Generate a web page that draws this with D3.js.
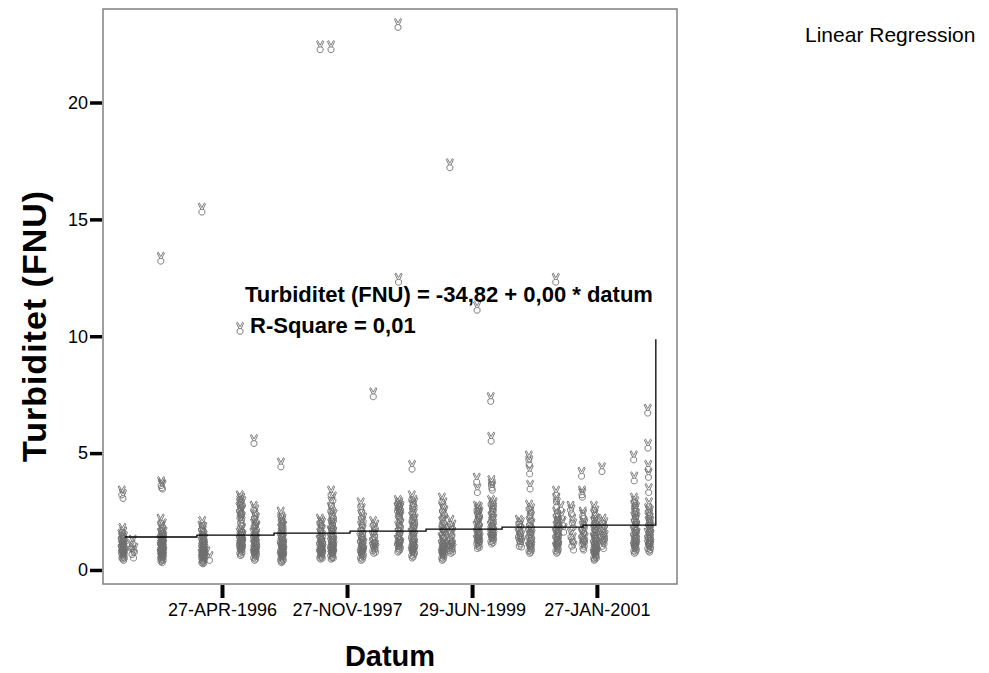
<!DOCTYPE html>
<html>
<head>
<meta charset="utf-8">
<script src="https://cdn.jsdelivr.net/npm/d3@7"></script>
<style>
  body { margin: 0; background: #fff; }
  svg { display: block; font-family: "Liberation Sans", Arial, sans-serif; }
</style>
</head>
<body>
<svg width="989" height="673"></svg>
<script>
// sampling campaigns: centre date of each campaign and the turbidity values measured in it
var sampleDates = ["1995-01-24", "1995-03-11", "1995-07-24", "1996-01-30", "1996-02-22", "1996-07-24",
  "1996-09-27", "1997-01-30", "1997-07-30", "1997-09-19", "1998-02-04", "1998-04-01", "1998-07-26",
  "1998-09-29", "1999-02-15", "1999-03-24", "1999-07-27", "1999-09-30", "2000-02-06", "2000-03-24",
  "2000-07-27", "2000-08-19", "2000-10-04", "2000-11-24", "2001-01-19", "2001-02-25", "2001-07-23",
  "2001-09-26"];
var sampleValues = [
  [1.45, 0.8, 1.1, 3.3, 0.6, 1.3, 0.95, 1.7, 0.7, 1.2, 0.55, 1.0, 3.15, 0.85, 1.55, 0.65, 1.15, 0.5, 0.9, 1.35, 0.75, 1.05, 0.6],
  [1.0, 0.75, 1.2, 0.6, 0.85],
  [1.2, 0.6, 2.1, 0.9, 13.3, 1.5, 0.45, 1.0, 3.7, 0.7, 1.8, 0.55, 1.3, 0.8, 3.6, 1.1, 0.5, 1.65, 0.95, 0.65, 1.4, 0.4, 1.05, 3.55, 0.75, 1.9, 0.85, 1.25, 0.6, 1.15, 0.5, 1.0, 1.35, 0.7, 1.55],
  [1.8, 0.6, 1.1, 0.4, 15.4, 1.5, 0.9, 2.0, 0.5, 1.3, 0.75, 1.6, 0.45, 1.0, 0.35, 1.2, 0.65, 1.75, 0.85, 0.55, 1.4, 0.7, 0.4, 1.05, 0.95, 0.5, 1.25, 0.6, 0.8],
  [0.7, 0.5],
  [2.6, 1.2, 3.1, 0.8, 1.5, 2.3, 10.3, 1.0, 2.9, 1.35, 0.7, 2.1, 1.6, 2.75, 0.9, 1.25, 2.45, 1.1, 3.0, 0.75, 1.45, 2.2, 0.95, 2.0, 1.3, 2.5, 0.85, 1.7, 1.15, 2.85, 1.05, 1.4],
  [1.5, 0.6, 2.65, 1.0, 5.5, 1.9, 0.8, 1.3, 2.3, 0.5, 1.1, 2.0, 0.7, 1.6, 0.9, 2.5, 1.2, 0.55, 1.75, 1.4, 0.65, 2.15, 1.05, 0.85, 1.25, 0.75, 1.8],
  [1.3, 0.5, 2.4, 0.9, 4.5, 1.7, 0.6, 2.2, 1.1, 0.4, 1.5, 0.8, 2.0, 1.2, 0.45, 1.9, 0.7, 1.4, 1.0, 0.55, 2.1, 1.6, 0.85, 0.65, 1.25, 0.95, 1.8, 0.5, 1.05, 0.75],
  [1.2, 0.6, 2.1, 0.9, 22.35, 1.5, 0.7, 1.8, 1.0, 0.55, 2.0, 1.3, 0.8, 1.65, 0.65, 1.1, 1.4, 0.75, 1.95, 0.95, 0.6, 1.25, 0.85],
  [1.6, 0.7, 2.6, 1.1, 22.35, 3.3, 0.55, 1.9, 1.3, 2.85, 0.8, 2.2, 1.5, 0.6, 1.0, 2.4, 1.75, 0.9, 1.2, 0.65, 2.0, 1.4, 0.75, 3.05, 1.05, 0.85, 1.85, 1.55, 0.6, 1.15, 2.3, 0.95],
  [1.3, 0.6, 2.8, 1.0, 1.8, 0.5, 2.3, 1.5, 0.8, 2.55, 1.1, 0.7, 2.0, 1.2, 0.55, 1.65, 0.9, 1.4, 0.65, 2.15, 0.75, 1.05],
  [1.4, 0.9, 2.0, 7.5, 1.1, 0.8, 1.7, 1.25, 0.95, 1.5, 1.0, 1.85, 0.85],
  [2.6, 1.2, 2.9, 0.85, 23.3, 1.8, 2.4, 1.0, 12.4, 2.7, 1.5, 0.9, 2.5, 2.0, 1.3, 2.8, 1.1, 2.35, 1.65, 0.95, 2.55, 1.4, 2.2, 1.05, 1.9, 2.65],
  [1.5, 0.7, 3.1, 1.1, 4.4, 2.2, 0.6, 1.8, 2.7, 1.3, 0.85, 2.5, 1.0, 2.0, 0.65, 1.6, 2.9, 1.2, 0.75, 2.35, 1.4, 0.95, 1.9, 2.8, 1.05, 1.7, 0.8, 2.1],
  [1.3, 0.6, 3.0, 1.0, 2.0, 0.5, 1.6, 2.6, 0.8, 1.2, 2.3, 0.7, 1.8, 0.55, 1.45, 2.8, 0.9, 1.1, 0.65, 2.1, 1.5, 0.75, 1.0, 2.45, 0.85, 1.7],
  [1.4, 17.3, 0.9, 2.05, 1.1, 0.8, 1.7, 1.25, 0.95, 1.55, 1.0, 1.85, 0.85],
  [1.8, 3.85, 1.2, 2.65, 11.2, 1.5, 3.4, 1.0, 2.2, 1.35, 2.5, 1.1, 1.9, 1.6, 2.35, 1.25, 2.05, 1.45, 2.6, 1.15, 1.7, 2.0, 1.05, 2.4, 1.3],
  [1.8, 7.3, 1.3, 2.9, 5.6, 1.6, 3.75, 2.2, 1.2, 3.6, 2.5, 1.45, 2.0, 3.5, 1.7, 2.7, 1.35, 2.35, 1.9, 1.25, 2.6, 1.55, 2.1, 2.8, 1.4],
  [1.5, 2.05, 1.1, 1.8, 1.3, 1.65, 1.2, 1.95, 1.4, 1.07],
  [1.5, 4.8, 0.9, 2.7, 4.6, 1.2, 2.0, 4.2, 0.8, 1.7, 3.55, 2.4, 1.0, 1.35, 2.2, 0.85, 1.6, 2.55, 1.1, 1.9, 0.95, 1.45],
  [1.5, 12.4, 0.9, 3.3, 2.4, 1.2, 3.0, 1.8, 0.8, 2.8, 1.4, 2.1, 1.0, 1.65, 2.25, 0.85, 1.3, 1.95, 1.1, 1.55, 0.95, 2.0, 1.25, 1.75],
  [2.65, 2.3, 2.0, 1.7],
  [2.65, 1.5, 2.5, 1.1, 2.1, 1.3, 1.9, 0.94],
  [4.1, 1.5, 3.3, 1.2, 3.2, 1.8, 2.4, 1.0, 2.3, 1.4, 2.0, 0.94, 1.65, 1.1, 1.9, 1.3],
  [1.3, 0.6, 2.65, 1.0, 2.0, 0.5, 1.6, 2.3, 0.8, 1.2, 0.55, 1.8, 0.9, 1.45, 2.45, 0.7, 1.1, 2.1, 0.65, 1.55, 0.85, 1.35, 0.75, 1.7, 1.05, 0.6, 1.95, 0.95],
  [1.5, 4.3, 1.1, 2.1, 1.3, 1.8, 1.0, 1.6, 1.2, 1.95, 1.4],
  [1.6, 4.8, 0.9, 3.0, 1.3, 3.9, 2.2, 0.8, 2.7, 1.1, 1.9, 2.5, 1.0, 1.45, 2.85, 1.2, 2.05, 0.85, 1.7, 2.35, 1.05, 2.6, 1.35, 1.8, 0.95, 2.15, 1.5],
  [1.5, 6.8, 1.0, 5.3, 2.55, 4.4, 1.2, 4.05, 2.0, 3.4, 0.9, 2.8, 1.7, 2.3, 1.1, 1.35, 2.15, 0.85, 1.85, 2.45, 1.25, 1.6, 0.95, 2.0, 1.45, 1.05, 1.75]
];
var campaignDays = 14; // each campaign lasted about two weeks

// fitted line as SPSS drew it (stepped, with the jump at the last case)
var fitDates = ["1995-02-02", "1996-01-02", "1996-12-24", "1997-12-11", "1998-11-28", "1999-11-15", "2000-11-24", "2001-10-27", "2001-10-27"];
var fitValues = [1.41, 1.49, 1.58, 1.66, 1.75, 1.83, 1.92, 1.92, 9.87];

var xTicks = ["1996-04-27", "1997-11-27", "1999-06-29", "2001-01-27"];
var yTicks = [0, 5, 10, 15, 20];

var parse = d3.utcParse("%Y-%m-%d"),
  fmt = d3.utcFormat("%d-%b-%Y");
var svg = d3.select("svg"),
  plotLeft = 103, plotRight = 677, plotTop = 9, plotBottom = 584;

var x = d3.scaleUtc()
  .domain([parse("1994-10-24"), parse("2002-02-02")])
  .range([plotLeft, plotRight]);
var y = d3.scaleLinear()
  .domain([-0.6, 24])
  .range([plotBottom, plotTop]);

// flatten campaigns into single cases spread over the campaign days
var points = [];
sampleDates.forEach(function (d, i) {
  var c = parse(d), vals = sampleValues[i], n = vals.length;
  vals.forEach(function (v, j) {
    var off = n > 1 ? (j / (n - 1) - 0.5) * campaignDays : 0;
    points.push({ date: d3.utcHour.offset(c, Math.round(off * 24)), value: v });
  });
});

// SPSS "victory hand" marker, drawn as an outline
var handPath = "M-1,-0.7L-3.6,-6.1L-2.5,-7L0,-2.4L2.5,-7L3.6,-6.1L1.2,-0.7" +
  "M-2.9,0.7C-2.9,-1.2 2.9,-1.2 2.9,0.7L2.9,2.7C2.9,5.8 -2.9,5.8 -2.9,2.7Z";

// frame
svg.append("rect")
  .attr("x", plotLeft).attr("y", plotTop)
  .attr("width", plotRight - plotLeft).attr("height", plotBottom - plotTop)
  .attr("fill", "none")
  .attr("stroke", "#808080")
  .attr("stroke-width", 1.5);

// axes
var yAxis = svg.append("g")
  .attr("transform", "translate(" + (plotLeft - 1) + ",0)")
  .call(d3.axisLeft(y).tickValues(yTicks).tickSize(12).tickPadding(2));
var xAxis = svg.append("g")
  .attr("transform", "translate(0," + (plotBottom + 1) + ")")
  .call(d3.axisBottom(x).tickValues(xTicks.map(parse)).tickSize(13).tickPadding(5)
    .tickFormat(function (d) { return fmt(d).toUpperCase(); }));
[yAxis, xAxis].forEach(function (g) {
  g.select(".domain").remove();
  g.selectAll(".tick text")
    .attr("font-family", "Liberation Sans, Arial, sans-serif")
    .attr("font-size", 18)
    .attr("fill", "#000");
});
yAxis.selectAll(".tick line").attr("stroke", "#000").attr("stroke-width", 3.5);
xAxis.selectAll(".tick line").attr("stroke", "#000").attr("stroke-width", 4);

// cases
svg.append("g")
  .selectAll("path")
  .data(points)
  .enter().append("path")
  .attr("transform", function (d) { return "translate(" + x(d.date) + "," + y(d.value) + ")"; })
  .attr("d", handPath)
  .attr("fill", "none")
  .attr("stroke", "#6e6e6e")
  .attr("stroke-width", 0.9);

// regression line
var fit = fitDates.map(function (d, i) { return [parse(d), fitValues[i]]; });
svg.append("path")
  .datum(fit)
  .attr("fill", "none")
  .attr("stroke", "#000")
  .attr("stroke-width", 1.3)
  .attr("d", d3.line()
    .curve(d3.curveStepAfter)
    .x(function (d) { return x(d[0]); })
    .y(function (d) { return y(d[1]); }));

// equation
svg.append("text")
  .attr("x", 245).attr("y", 302)
  .attr("font-size", 22).attr("font-weight", "bold")
  .text("Turbiditet (FNU) = -34,82 + 0,00 * datum");
svg.append("text")
  .attr("x", 250).attr("y", 333)
  .attr("font-size", 22).attr("font-weight", "bold")
  .text("R-Square = 0,01");

// titles
svg.append("text")
  .attr("x", 390).attr("y", 666)
  .attr("text-anchor", "middle")
  .attr("font-size", 29).attr("font-weight", "bold")
  .text("Datum");
svg.append("text")
  .attr("transform", "translate(46,326) rotate(-90)")
  .attr("text-anchor", "middle")
  .attr("font-size", 34).attr("font-weight", "bold")
  .attr("letter-spacing", 1)
  .text("Turbiditet (FNU)");

// legend
svg.append("text")
  .attr("x", 805).attr("y", 42)
  .attr("font-size", 21)
  .text("Linear Regression");
</script>
</body>
</html>
